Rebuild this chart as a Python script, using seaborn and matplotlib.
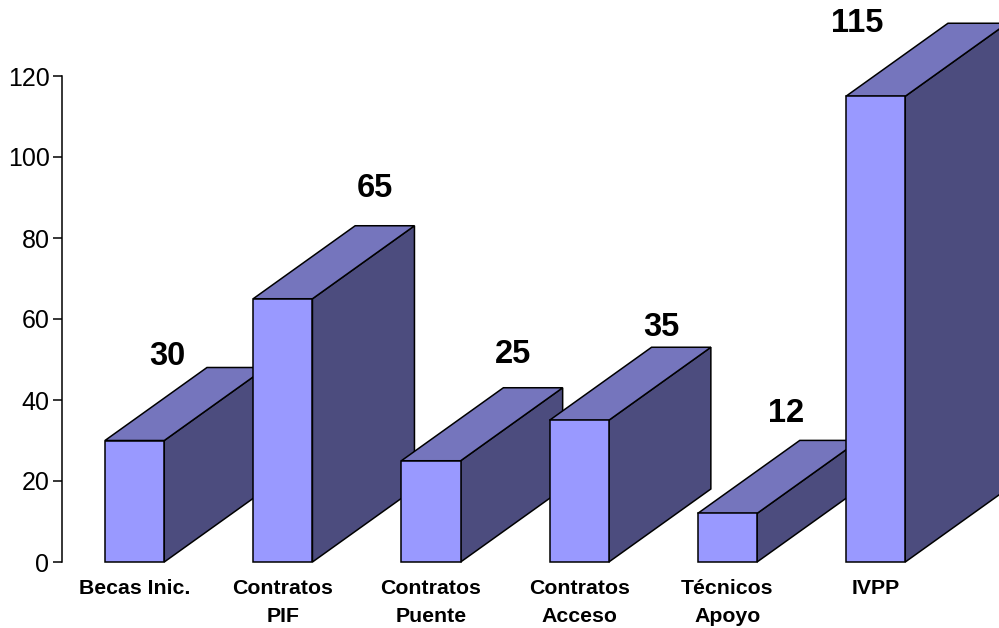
"""3D-look bar chart of contract counts."""

import matplotlib
matplotlib.use("Agg")
import matplotlib.pyplot as plt
import pandas as pd
import seaborn as sns
from matplotlib.patches import Polygon

categories = ["Becas Inic.", "Contratos\nPIF", "Contratos\nPuente", "Contratos\nAcceso", "Técnicos\nApoyo", "IVPP"]
values = [30, 65, 25, 35, 12, 115]
y_ticks = [0, 20, 40, 60, 80, 100, 120]
# hand placed value labels, pixels from the front face's top centre
label_dx = [33, 92, 82, 82, 59, -18]
label_dy = [84, 110, 106, 93, 100, 73]

FRONT = "#9999ff"
TOP = "#7575bd"
SIDE = "#4c4c7e"
W, H = 999, 628
DEPTH_X, DEPTH_Y = 102, 73  # pixels

sns.set_theme(style="white")
plt.rcParams["font.family"] = ["Liberation Sans", "DejaVu Sans"]

fig = plt.figure(figsize=(W / 100, H / 100), dpi=100, facecolor="white")
ax = fig.add_axes([62 / W, 1 - 562 / H, 889.2 / W, 486 / H])

df = pd.DataFrame({"cat": categories, "val": values})
sns.barplot(data=df, x="cat", y="val", color=FRONT, saturation=1, width=0.4,
            edgecolor="black", linewidth=1.1, ax=ax, zorder=5)
ax.set_xlim(-0.49, 5.51)
ax.set_ylim(0, 120)
fig.canvas.draw()

to_px = ax.transData.transform
to_data = ax.transData.inverted().transform


def shifted(x, y):
    px, py = to_px((x, y))
    return tuple(to_data((px + DEPTH_X, py + DEPTH_Y)))


# depth faces, drawn back to front so later bars cover earlier ones
bars = list(ax.patches)
for i, bar in enumerate(bars):
    x0, x1 = bar.get_x(), bar.get_x() + bar.get_width()
    h = bar.get_height()
    z = 1 + i
    side = [(x1, 0), shifted(x1, 0), shifted(x1, h), (x1, h)]
    top = [(x0, h), (x1, h), shifted(x1, h), shifted(x0, h)]
    for pts, col in ((side, SIDE), (top, TOP)):
        ax.add_patch(Polygon(pts, closed=True, facecolor=col, edgecolor="black",
                             linewidth=1.1, zorder=z))
    bar.set_zorder(z + 0.5)
    ax.annotate(str(values[i]), ((x0 + x1) / 2, h),
                xytext=(label_dx[i], label_dy[i]), textcoords="offset pixels",
                ha="center", va="center", fontsize=23.5, fontweight="bold",
                color="black", annotation_clip=False, zorder=20)

# let the depth faces run up to the picture edge, but not past it
for p in ax.patches:
    p.set_clip_path(None)
    p.set_clip_box(fig.bbox)

ax.set_xlabel("")
ax.set_ylabel("")
ax.set_yticks(y_ticks)
ax.set_xticks(range(len(categories)))
ax.set_xticklabels(categories, fontsize=15.3, fontweight="bold", color="black", linespacing=1.55)
ax.tick_params(axis="x", length=0, pad=12.5)
ax.tick_params(axis="y", length=6.5, width=1.1, color="black", labelsize=18,
               labelcolor="black", pad=2.5, left=True)
for s in ("top", "right", "bottom"):
    ax.spines[s].set_visible(False)
ax.spines["left"].set_color("black")
ax.spines["left"].set_linewidth(1.1)
ax.set_facecolor("none")

fig.savefig("out.png", dpi=100, facecolor="white")
